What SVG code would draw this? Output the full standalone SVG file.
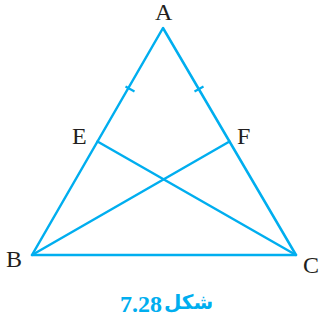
<svg xmlns="http://www.w3.org/2000/svg" width="321" height="325" viewBox="0 0 321 325">
<style>
.ln{stroke:#00AEEF;stroke-width:2.5;fill:none;stroke-linecap:round;stroke-linejoin:round}
.tk{stroke:#00AEEF;stroke-width:2.2;fill:none}
.lb{font-family:"Liberation Serif","Times New Roman",serif;font-size:24px;fill:#231f20}
.cap{font-family:"Liberation Serif",serif;font-weight:bold;font-size:24px;fill:#00AEEF}
.ur{font-family:"DejaVu Sans","Noto Sans",sans-serif;font-weight:bold;font-size:20px;fill:#00AEEF}
</style>
<g id="connectors">
<polygon class="ln" points="163,28 32,255 296,255"/>
<line class="ln" x1="97.5" y1="141.5" x2="296" y2="255"/>
<line class="ln" x1="229.5" y1="141.5" x2="32" y2="255"/>
<line class="tk" x1="125.5" y1="86.5" x2="134.5" y2="91.5"/>
<line class="tk" x1="194.5" y1="91.5" x2="203.5" y2="86.5"/>
</g>
<g id="A"><text class="lb" x="155" y="20">A</text></g>
<g id="E"><text class="lb" x="72" y="144">E</text></g>
<g id="F"><text class="lb" x="237" y="144">F</text></g>
<g id="B"><text class="lb" x="6" y="267">B</text></g>
<g id="C"><text class="lb" x="303" y="273">C</text></g>
<g id="caption">
<text class="cap" x="120" y="312">7.28</text>
<text class="ur" x="164" y="309">شکل</text>
</g>
</svg>
